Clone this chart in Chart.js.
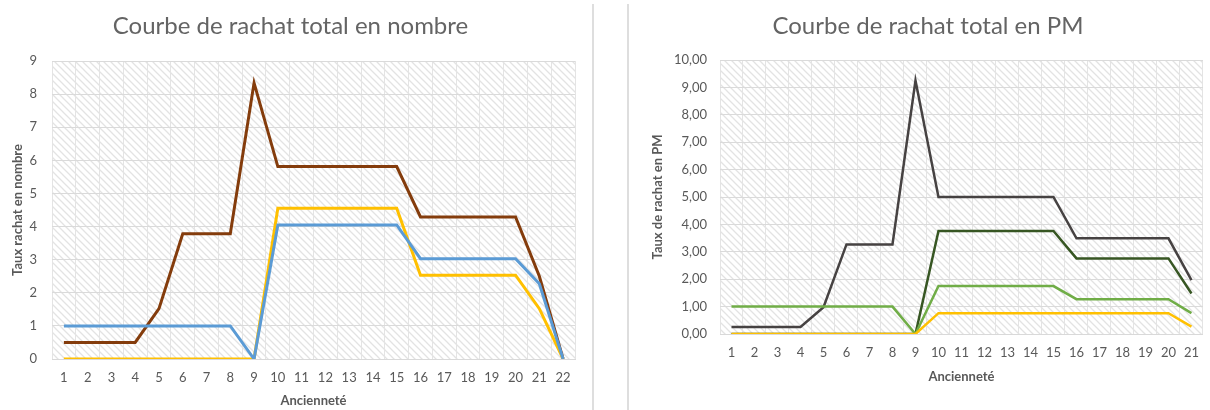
<!DOCTYPE html>
<html>
<head>
<meta charset="utf-8">
<script src="https://cdn.jsdelivr.net/npm/chart.js@4"></script>
<style>
  body { margin: 0; background: #fff; }
  #wrap { position: relative; width: 1210px; height: 410px; overflow: hidden; }
  .box { position: absolute; top: 0; height: 410px; }
  .sep { position: absolute; top: 4px; bottom: 0; width: 2px; background: #dedede; }
</style>
</head>
<body>
<div id="wrap">
  <div class="box" style="left:0;width:593px"><canvas id="chartNombre"></canvas></div>
  <div class="sep" style="left:592px"></div>
  <div class="sep" style="left:627px"></div>
  <div class="box" style="left:629px;width:581px"><canvas id="chartPM"></canvas></div>
</div>
<script>
'use strict';

// --- donnees graphique gauche (en nombre) ---
const ANC_22 = ['1','2','3','4','5','6','7','8','9','10','11','12','13','14','15','16','17','18','19','20','21','22'];
const nbBleu  = [1, 1, 1, 1, 1, 1, 1, 1, 0, 4.05, 4.05, 4.05, 4.05, 4.05, 4.05, 3.03, 3.03, 3.03, 3.03, 3.03, 2.27, 0];
const nbJaune = [0, 0, 0, 0, 0, 0, 0, 0, 0, 4.55, 4.55, 4.55, 4.55, 4.55, 4.55, 2.53, 2.53, 2.53, 2.53, 2.53, 1.52, 0];
const nbBrun  = [0.5, 0.5, 0.5, 0.5, 1.52, 3.78, 3.78, 3.78, 8.34, 5.81, 5.81, 5.81, 5.81, 5.81, 5.81, 4.29, 4.29, 4.29, 4.29, 4.29, 2.5, 0];

// --- donnees graphique droit (en PM) ---
const ANC_21 = ['1','2','3','4','5','6','7','8','9','10','11','12','13','14','15','16','17','18','19','20','21'];
const pmGris      = [0.26, 0.26, 0.26, 0.26, 0.98, 3.27, 3.27, 3.27, 9.25, 5.0, 5.0, 5.0, 5.0, 5.0, 5.0, 3.49, 3.49, 3.49, 3.49, 3.49, 1.97];
const pmVertFonce = [0, 0, 0, 0, 0, 0, 0, 0, 0, 3.76, 3.76, 3.76, 3.76, 3.76, 3.76, 2.76, 2.76, 2.76, 2.76, 2.76, 1.48];
const pmVertClair = [1, 1, 1, 1, 1, 1, 1, 1, 0, 1.75, 1.75, 1.75, 1.75, 1.75, 1.75, 1.27, 1.27, 1.27, 1.27, 1.27, 0.76];
const pmJaune     = [0, 0, 0, 0, 0, 0, 0, 0, 0, 0.76, 0.76, 0.76, 0.76, 0.76, 0.76, 0.76, 0.76, 0.76, 0.76, 0.76, 0.27];

const FONT = 'Lato, "Open Sans", sans-serif';
const GREY = '#595959';

// fond hachure de la zone de tracé
const hatch = {
  id: 'hatch',
  beforeDraw(chart) {
    const { ctx, chartArea: a } = chart;
    const p = document.createElement('canvas');
    p.width = 7; p.height = 7;
    const pc = p.getContext('2d');
    pc.strokeStyle = '#e3e3e3';
    pc.lineWidth = 1.3;
    pc.beginPath();
    pc.moveTo(-2, -2); pc.lineTo(9, 9);
    pc.moveTo(-2, 5); pc.lineTo(2, 9);
    pc.moveTo(5, -2); pc.lineTo(9, 2);
    pc.stroke();
    ctx.save();
    ctx.fillStyle = ctx.createPattern(p, 'repeat');
    ctx.fillRect(a.left, a.top, a.right - a.left, a.bottom - a.top);
    ctx.restore();
  },
};

function serie(data, color, width) {
  return { data, borderColor: color, borderWidth: width, pointRadius: 0, tension: 0, fill: false };
}

function buildOptions(o) {
  return {
    responsive: true,
    maintainAspectRatio: false,
    animation: false,
    layout: { padding: { left: o.padLeft, right: o.padRight, top: 0, bottom: 0 } },
    plugins: {
      legend: { display: false },
      tooltip: { enabled: false },
      title: {
        display: true,
        text: o.title,
        color: '#646464',
        font: { family: FONT, size: 24, weight: 'normal' },
        padding: { top: 12, bottom: o.titleGap },
      },
    },
    scales: {
      x: {
        offset: true,
        grid: { offset: true, color: '#e4e4e4', drawTicks: false },
        border: { color: '#d9d9d9' },
        ticks: { color: GREY, padding: 11, maxRotation: 0, autoSkip: false, font: { family: FONT, size: 13 } },
        title: {
          display: true, text: 'Ancienneté', color: GREY,
          font: { family: FONT, size: 13, weight: 'bold' },
          padding: { top: 0, bottom: o.xTitleBottom },
        },
        afterFit: s => { s.height = o.xHeight; },
      },
      y: {
        min: 0,
        max: o.yMax,
        grid: { color: '#dadada', drawTicks: false },
        border: { display: false },
        ticks: {
          stepSize: 1, color: GREY, padding: o.yTickPad,
          font: { family: FONT, size: 13 },
          callback: o.fmt,
        },
        title: {
          display: true, text: o.yTitle, color: GREY,
          font: { family: FONT, size: 13, weight: 'bold' },
          padding: { top: 4, bottom: 0 },
        },
        afterFit: s => { s.width = o.yWidth; },
      },
    },
  };
}

// --- Courbe de rachat total en nombre ---
new Chart(document.getElementById('chartNombre'), {
  type: 'line',
  data: {
    labels: ANC_22,
    datasets: [
      serie(nbBleu, '#5B9BD5', 3),
      serie(nbJaune, '#FFC000', 3),
      serie(nbBrun, '#843C0C', 3),
    ],
  },
  options: buildOptions({
    title: 'Courbe de rachat total en nombre',
    yTitle: 'Taux rachat en nombre',
    padLeft: 6, padRight: 18, titleGap: 20.2,
    yWidth: 46, yTickPad: 15, yMax: 9,
    xHeight: 51, xTitleBottom: 1,
    fmt: v => v,
  }),
  plugins: [hatch],
});

// --- Courbe de rachat total en PM ---
new Chart(document.getElementById('chartPM'), {
  type: 'line',
  data: {
    labels: ANC_21,
    datasets: [
      serie(pmJaune, '#FFC000', 2.5),
      serie(pmVertClair, '#70AD47', 2.5),
      serie(pmVertFonce, '#375623', 2.5),
      serie(pmGris, '#464242', 2.5),
    ],
  },
  options: buildOptions({
    title: 'Courbe de rachat total en PM',
    yTitle: 'Taux de rachat en PM',
    padLeft: 17, padRight: 0, titleGap: 19.2,
    yWidth: 74, yTickPad: 13, yMax: 10,
    xHeight: 76, xTitleBottom: 25,
    fmt: v => v.toFixed(2).replace('.', ','),
  }),
  plugins: [hatch],
});
</script>
</body>
</html>
